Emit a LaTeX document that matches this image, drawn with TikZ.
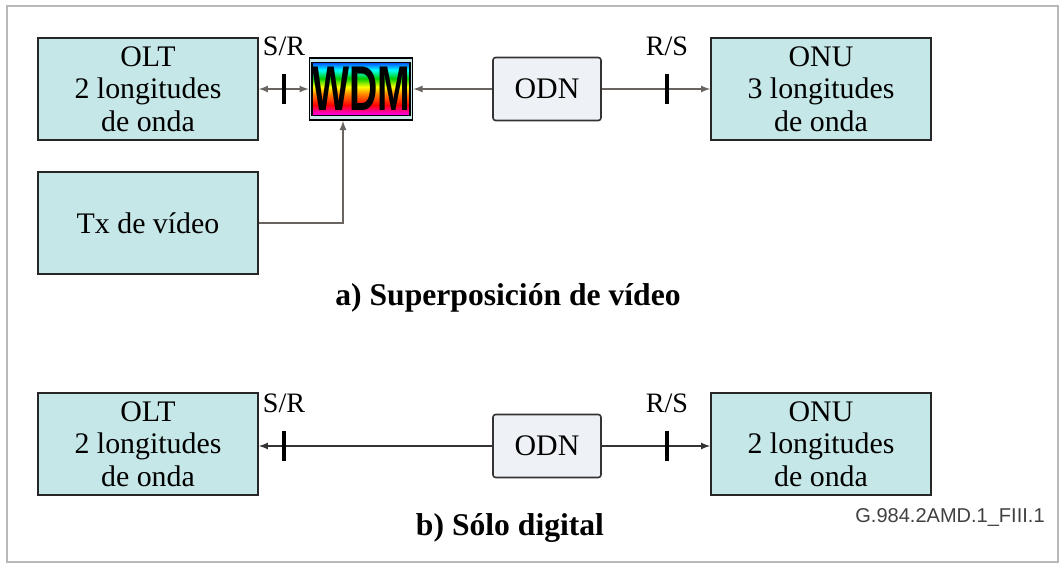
\documentclass[tikz,border=0pt]{standalone}
\usepackage{fontspec}
\setmainfont{Liberation Serif}
\setsansfont{Liberation Sans}
\usetikzlibrary{positioning, calc}

\definecolor{boxfill}{HTML}{C6E7E7}
\definecolor{odnfill}{HTML}{EEF2F6}
\definecolor{linkgray}{HTML}{6A6460}
\pgfdeclareverticalshading{rainbow}{100bp}{color(0bp)=(magenta); color(25bp)=(magenta); color(35bp)=(red); color(45bp)=(orange); color(52bp)=(yellow); color(60bp)=(green!80!black); color(68bp)=(cyan); color(75bp)=(blue!70!cyan); color(100bp)=(blue!70!cyan)}

\tikzset{
  unit/.style={draw=black!85, line width=1pt, fill=boxfill, minimum width=4.4cm, minimum height=2.04cm, align=center, inner sep=0pt, font=\fontsize{17}{18.5}\selectfont},
  odnbox/.style={draw=black!80, line width=0.9pt, fill=odnfill, rounded corners=1.5pt, minimum width=2.16cm, minimum height=1.26cm, font=\fontsize{17}{18.5}\selectfont},
  wdmframe/.style={draw=black, line width=1pt, fill=boxfill, minimum width=2.06cm, minimum height=1.24cm, inner sep=0pt},
  wdmcore/.style={draw=black, line width=0.6pt, shading=rainbow, minimum width=1.86cm, minimum height=1.06cm, inner sep=0pt},
  link/.style={draw=linkgray, line width=0.8pt},
  bar/.style={fill=black, minimum width=2.6pt, minimum height=0.6cm, inner sep=0pt},
  point/.style={font=\fontsize{16}{16}\selectfont, inner sep=0pt},
  caption/.style={font=\fontsize{18}{18}\selectfont\bfseries}
}

\begin{document}
\begin{tikzpicture}[>=latex, x=0.02cm, y=-0.02cm]
\useasboundingbox (0,0) rectangle (1064,569);
\draw[gray!55, line width=1pt] (7,6) rectangle (1058,562);

% a) video overlay
\node[unit] (olt1) at (148,89) {OLT\\2 longitudes\\de onda};
\node[unit] (tx) at (148,223) {Tx de vídeo};
\node[wdmframe] (wdm) at (361,89) {};
\node[wdmcore] (wdm-core) at (wdm.center) {\scalebox{0.62}[1]{\fontsize{36}{36}\sffamily\bfseries WDM}};
\node[odnbox] (odn1) at (547,89) {ODN};
\node[unit] (onu1) at (821,89) {ONU\\3 longitudes\\de onda};

\draw[link, <->] (olt1.east) -- (wdm.west);
\draw[link, ->] (odn1.west) -- (wdm.east);
\draw[link, ->] (odn1.east) -- (onu1.west);
\draw[link, ->] (tx.east) -| ([xshift=-0.36cm] wdm.south);

\node[bar] (sr1) at (284,89) {};
\node[bar] (rs1) at (667,89) {};
\node[point, above=0.36cm of sr1] (sr1-label) {S/R};
\node[point, above=0.36cm of rs1] (rs1-label) {R/S};

\node[caption] (cap-a) at (508,298) {a) Superposición de vídeo};

% b) digital only
\node[unit] (olt2) at (148,444) {OLT\\2 longitudes\\de onda};
\node[odnbox] (odn2) at (547,446) {ODN};
\node[unit] (onu2) at (821,444) {ONU\\2 longitudes\\de onda};

\draw[link, draw=black!80, ->] (odn2.west) -- (olt2.east |- odn2.west);
\draw[link, draw=black!80, ->] (odn2.east) -- (onu2.west |- odn2.east);

\node[bar] (sr2) at (284,446) {};
\node[bar] (rs2) at (667,446) {};
\node[point, above=0.36cm of sr2] (sr2-label) {S/R};
\node[point, above=0.36cm of rs2] (rs2-label) {R/S};

\node[caption] (cap-b) at (510,528) {b) Sólo digital};
\node[font=\fontsize{11.4}{12}\sffamily, text=black!75] (fig-id) at (950,517) {G.984.2AMD.1\_FIII.1};
\end{tikzpicture}
\end{document}
